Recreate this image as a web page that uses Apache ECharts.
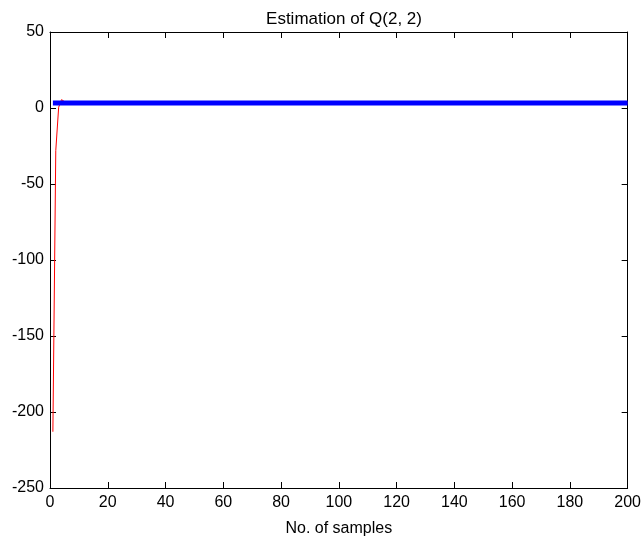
<!DOCTYPE html>
<html><head><meta charset="utf-8">
<script src="https://cdn.jsdelivr.net/npm/echarts@6/dist/echarts.min.js"></script>
<style>html,body{margin:0;padding:0;background:#fff}#c{width:644px;height:542px}</style>
</head><body><div id="c"></div>
<script>
var titleText = 'Estimation of Q(2, 2)';
var xLabel = 'No. of samples';
var xTicks = [0,20,40,60,80,100,120,140,160,180,200];
var yTicks = [-250,-200,-150,-100,-50,0,50];
var redSamples = [1,2,3,4,5,6,8,10,15,20,30,40,50,60,70,80,90,100,110,120,130,140,150,160,170,180,190,200];
var redValues  = [-213,-28,0.5,5.5,4.2,3.6,3.4,3.3,3.4,3.5,3.6,3.4,3.3,3.6,3.4,3.3,3.5,3.4,3.3,3.4,3.5,3.6,3.4,3.3,3.4,3.3,3.4,3.3];
var blueSamples = [1,20,40,60,80,100,120,140,160,180,200];
var blueValues  = [3.3,3.3,3.3,3.3,3.3,3.3,3.3,3.3,3.3,3.3,3.3];

var chart = echarts.init(document.getElementById('c'), null, {renderer:'canvas'});
var font = 'Liberation Sans, Arial, sans-serif';
function pairs(xs, ys){ return xs.map(function(x,i){return [x, ys[i]];}); }
var axisCommon = {
  axisLine:{show:true, onZero:false, lineStyle:{color:'#000', width:1}},
  axisTick:{show:true, inside:true, length:6, lineStyle:{color:'#000'}},
  splitLine:{show:false}
};
var xMin = xTicks[0], xMax = xTicks[xTicks.length-1], xInt = xTicks[1]-xTicks[0];
var yMin = yTicks[0], yMax = yTicks[yTicks.length-1], yInt = yTicks[1]-yTicks[0];
chart.setOption({
  animation:false,
  backgroundColor:'#fff',
  title:{text:titleText, left:339, textAlign:'center', top:6, textStyle:{fontFamily:font, fontSize:17, fontWeight:'normal', color:'#000'}},
  grid:{left:50, right:16, top:32, bottom:49, containLabel:false},
  xAxis:[
    Object.assign({type:'value', min:xMin, max:xMax, interval:xInt, position:'bottom',
      name:xLabel, nameLocation:'middle', nameGap:33,
      nameTextStyle:{fontFamily:font, fontSize:16, color:'#000'},
      axisLabel:{fontFamily:font, fontSize:16, color:'#000', margin:7}}, axisCommon),
    Object.assign({type:'value', min:xMin, max:xMax, interval:xInt, position:'top', axisLabel:{show:false}}, axisCommon)
  ],
  yAxis:[
    Object.assign({type:'value', min:yMin, max:yMax, interval:yInt, position:'left',
      axisLabel:{fontFamily:font, fontSize:16, color:'#000', margin:6}}, axisCommon),
    Object.assign({type:'value', min:yMin, max:yMax, interval:yInt, position:'right', axisLabel:{show:false}}, axisCommon)
  ],
  series:[
    {type:'line', data:pairs(redSamples, redValues), showSymbol:false, lineStyle:{color:'#ff0000', width:1}, z:2},
    {type:'line', data:pairs(blueSamples, blueValues), showSymbol:false, lineStyle:{color:'#0000ff', width:5}, z:3}
  ]
});
</script></body></html>
